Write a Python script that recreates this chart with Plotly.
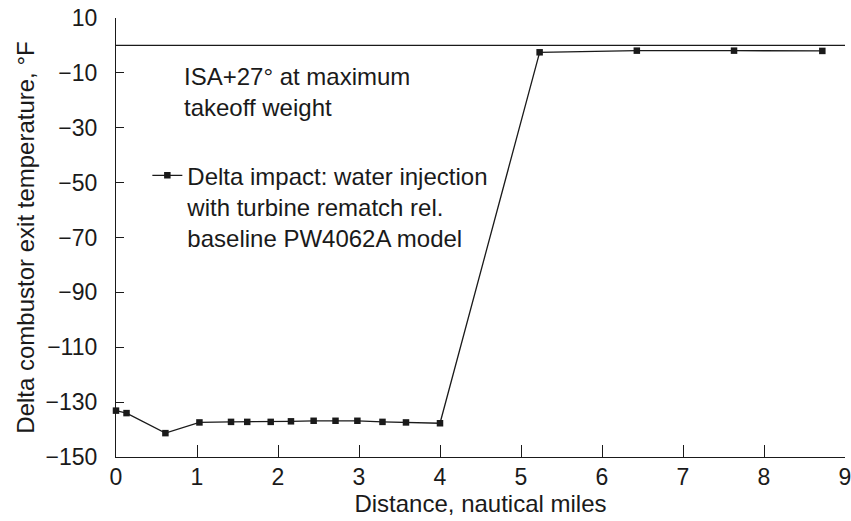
import plotly.graph_objects as go

distance = [0.0, 0.13, 0.61, 1.03, 1.42, 1.62, 1.91, 2.16, 2.44, 2.71, 2.98, 3.29, 3.58, 4.00,
            5.23, 6.43, 7.63, 8.72]
delta_temp = [-133.1, -134.0, -141.3, -137.4, -137.2, -137.2, -137.2, -137.0, -136.8, -136.8,
              -136.8, -137.2, -137.4, -137.7, -2.5, -1.9, -1.9, -2.0]
series_name = "Delta impact: water injection<br>with turbine rematch rel.<br>baseline PW4062A model"
note_text = "ISA+27° at maximum<br>takeoff weight"
x_ticks = list(range(0, 10))
y_ticks = list(range(-150, 11, 20))

FONT = "Liberation Sans, Arial, sans-serif"
INK = "#1a1a1a"

fig = go.Figure()
fig.add_trace(go.Scatter(
    x=distance, y=delta_temp, mode="lines+markers", name=series_name,
    line=dict(color=INK, width=1.3),
    marker=dict(symbol="square", size=6.5, color=INK),
    cliponaxis=False,
))

fig.add_hline(y=0, line=dict(color=INK, width=1.2))

fig.add_annotation(
    text=note_text, xref="paper", yref="paper", x=0.0905, y=0.902,
    xanchor="left", yanchor="top", align="left", showarrow=False,
    font=dict(family=FONT, size=24, color=INK),
)

fig.update_layout(
    width=851, height=521,
    margin=dict(l=116, r=6, t=18, b=64),
    paper_bgcolor="white", plot_bgcolor="white",
    font=dict(family=FONT, size=23, color=INK),
    showlegend=True,
    legend=dict(x=0.043, y=0.692, xanchor="left", yanchor="top",
                bgcolor="rgba(0,0,0,0)", font=dict(family=FONT, size=24, color=INK),
                valign="top", itemwidth=30, tracegroupgap=0),
    xaxis=dict(range=[0, 9], tickvals=x_ticks, ticktext=[str(v) for v in x_ticks],
               ticks="inside", ticklen=12, tickcolor=INK, tickwidth=1.2,
               showline=True, linecolor=INK, linewidth=1.2, showgrid=False, zeroline=False,
               automargin=False, ticklabeloverflow="allow", ticklabelstandoff=-1,
               title=dict(text="Distance, nautical miles", standoff=0,
                          font=dict(family=FONT, size=24, color=INK)),
               tickfont=dict(family=FONT, size=23, color=INK)),
    yaxis=dict(range=[-150, 10], tickvals=y_ticks,
               ticktext=[("\u2212" + str(abs(v))) if v < 0 else str(v) for v in y_ticks],
               ticks="inside", ticklen=8, tickcolor=INK, tickwidth=1.2,
               showline=True, linecolor=INK, linewidth=1.2, showgrid=False, zeroline=False,
               automargin=False, ticklabeloverflow="allow", ticklabelstandoff=13,
               title=dict(text="Delta combustor exit temperature, °F", standoff=4,
                          font=dict(family=FONT, size=24, color=INK)),
               tickfont=dict(family=FONT, size=23, color=INK)),
)

fig.write_html("out.html", config={"displayModeBar": False},
               post_script="document.body.style.margin='0';")
